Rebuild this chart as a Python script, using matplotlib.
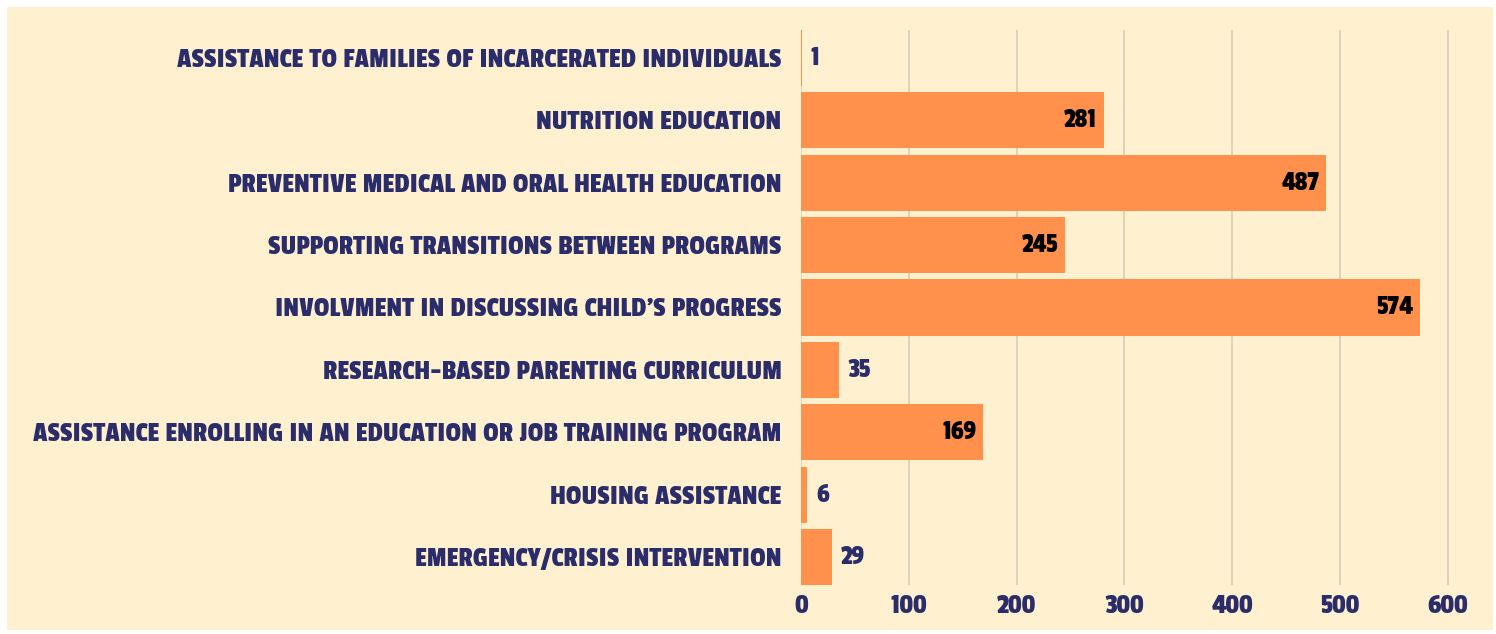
import matplotlib.pyplot as plt
from matplotlib.patches import Rectangle

categories = [
    "ASSISTANCE TO FAMILIES OF INCARCERATED INDIVIDUALS",
    "NUTRITION EDUCATION",
    "PREVENTIVE MEDICAL AND ORAL HEALTH EDUCATION",
    "SUPPORTING TRANSITIONS BETWEEN PROGRAMS",
    "INVOLVMENT IN DISCUSSING CHILD'S PROGRESS",
    "RESEARCH-BASED PARENTING CURRICULUM",
    "ASSISTANCE ENROLLING IN AN EDUCATION OR JOB TRAINING PROGRAM",
    "HOUSING ASSISTANCE",
    "EMERGENCY/CRISIS INTERVENTION",
]
values = [1, 281, 487, 245, 574, 35, 169, 6, 29]
xticks = [0, 100, 200, 300, 400, 500, 600]

bg = "#FFF1CF"
bar_color = "#FF914D"
navy = "#2B2D6B"
plt.rcParams["font.family"] = ["Passion One", "Anton", "Oswald", "DejaVu Sans"]

fig = plt.figure(figsize=(14.96, 6.34), dpi=100, facecolor="white")
fig.patches.append(Rectangle((7 / 1496, 4 / 634), 1486 / 1496, 623 / 634,
                             transform=fig.transFigure, facecolor=bg,
                             edgecolor="none", zorder=-5))
ax = fig.add_axes([801 / 1496, 1 - 585 / 634, 679 / 1496, 555 / 634])
ax.patch.set_alpha(0)

y = list(range(len(categories)))
ax.barh(y, values, height=0.9, color=bar_color, zorder=2)
ax.set_ylim(len(categories) - 0.55, -0.45)
ax.set_xlim(0, 630)
ax.set_yticks(y)
ax.set_yticklabels(categories, fontsize=21, color=navy)
ax.set_xticks(xticks)
ax.set_xticklabels([str(t) for t in xticks], fontsize=21, color=navy)
ax.tick_params(length=0, axis="y", pad=14)
ax.tick_params(length=0, axis="x", pad=7)
for s in ax.spines.values():
    s.set_visible(False)
ax.grid(axis="x", color="#D8CDB4", linewidth=1.2, zorder=1)
ax.set_axisbelow(True)

for i, v in enumerate(values):
    if v > 100:
        ax.text(v - 6, i, str(v), ha="right", va="center", fontsize=20,
                color="black", zorder=3)
    else:
        ax.text(v + 8, i, str(v), ha="left", va="center", fontsize=20,
                color=navy, zorder=3)

fig.savefig("out.png", dpi=100, facecolor="white")
